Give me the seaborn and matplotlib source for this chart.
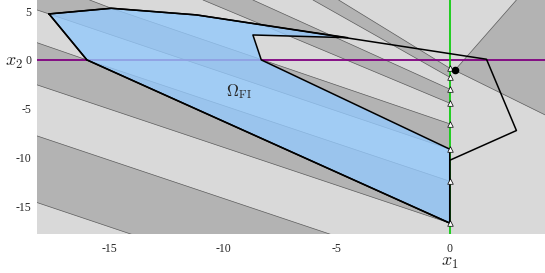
import numpy as np
import pandas as pd
import matplotlib
matplotlib.use("Agg")
import matplotlib.pyplot as plt
import seaborn as sns

sns.set_style("white")
plt.rcParams["axes.unicode_minus"] = False
plt.rcParams["mathtext.fontset"] = "cm"

XLIM = (-18.2, 4.2)
YLIM = (-17.9, 6.15)

# band boundaries left of x1 = 0, listed from bottom to top (x list, y list)
band_x = [
    [-18.2, -14.03],
    [-18.2, -5.26],
    [-18.2, 0.0],
    [-18.2, -16.0, 0.0],
    [-18.2, -17.67, 0.0],
    [-15.88, -14.92, 0.0],
    [-10.88, 0.0],
    [-8.68, 0.0],
    [-6.03, 0.0],
    [-4.9, 0.0],
]
band_y = [
    [-14.64, -17.9],
    [-7.8, -17.9],
    [-2.56, -16.75],
    [1.77, 0.0, -12.45],
    [5.13, 4.72, -9.16],
    [6.15, 5.3, -6.56],
    [6.15, -4.44],
    [6.15, -3.0],
    [6.15, -1.78],
    [6.15, -0.85],
]
band_dark_above = [True, False, True, False, True, False, True, False, True, False]

# region right of x1 = 0
dot = (0.22, -1.07)
right_dark_x = [0.22, 2.94, 4.2, 4.2]
right_dark_y = [-1.07, 6.15, 6.15, -5.64]

# feasible set (blue) and outer outline
omega_x = [-17.67, -14.92, -11.17, -4.5, -8.68, -8.31, 0.0, 0.0, -16.0]
omega_y = [4.72, 5.3, 4.62, 2.28, 2.56, 0.0, -9.16, -16.75, 0.0]
outer_x = [-17.67, -14.92, -11.17, 1.62, 2.94, 0.0, 0.0, -16.0]
outer_y = [4.72, 5.3, 4.62, 0.07, -7.25, -10.3, -16.75, 0.0]

# trajectory points on x1 = 0
tri_y = [-0.85, -1.78, -3.0, -4.44, -6.56, -9.16, -12.45, -16.75]

LIGHT = "#d9d9d9"
DARK = "#b3b3b3"
EDGE = "#5a5a5a"

fig = plt.figure(figsize=(5.45, 2.73), dpi=100)
ax = fig.add_axes([37 / 545, 38.7 / 273, 508 / 545, 234.3 / 273])

# background
ax.fill([XLIM[0], XLIM[1], XLIM[1], XLIM[0]], [YLIM[0], YLIM[0], YLIM[1], YLIM[1]],
        color=LIGHT, lw=0, zorder=0)
for bx, by, dk in zip(band_x, band_y, band_dark_above):
    px = list(bx)
    py = list(by)
    if px[-1] < 0:  # ends at bottom edge
        px += [0.0, 0.0]
        py += [YLIM[0], YLIM[1]]
    else:
        px += [0.0]
        py += [YLIM[1]]
    if by[0] < YLIM[1] - 1e-6:
        px += [XLIM[0], XLIM[0]]
        py += [YLIM[1], by[0]]
    ax.fill(px, py, color=DARK if dk else LIGHT, lw=0, zorder=0.5)
for bx, by in zip(band_x, band_y):
    ax.plot(bx, by, color=EDGE, lw=0.5, zorder=0.8)
ax.fill(right_dark_x, right_dark_y, color=DARK, lw=0, zorder=0.5)
ax.plot(right_dark_x[:2], right_dark_y[:2], color=EDGE, lw=0.5, zorder=0.8)
ax.plot([right_dark_x[0], right_dark_x[3]], [right_dark_y[0], right_dark_y[3]],
        color=EDGE, lw=0.5, zorder=0.8)

# axes lines
ax.axhline(0, color="#800080", lw=1.3, zorder=1)
ax.axvline(0, color="#00cc00", lw=1.2, zorder=1)

# blue set
ax.fill(omega_x, omega_y, color=(0.58, 0.79, 0.99), alpha=0.8, lw=0, zorder=2)
ox = omega_x + omega_x[:1]
oy = omega_y + omega_y[:1]
df_o = pd.DataFrame({"x": ox, "y": oy})
sns.lineplot(data=df_o, x="x", y="y", sort=False, color="black", lw=1.1, ax=ax,
             zorder=3, estimator=None)
ux = outer_x + outer_x[:1]
uy = outer_y + outer_y[:1]
df_u = pd.DataFrame({"x": ux, "y": uy})
sns.lineplot(data=df_u, x="x", y="y", sort=False, color="black", lw=1.1, ax=ax,
             zorder=3, estimator=None)

# markers
df_t = pd.DataFrame({"x": [0.0] * len(tri_y), "y": tri_y})
sns.scatterplot(data=df_t, x="x", y="y", marker="^", s=16, color="white",
                edgecolor="black", linewidth=0.5, ax=ax, zorder=4)
ax.scatter([dot[0]], [dot[1]], s=20, color="black", zorder=4)

ax.text(-9.3, -3.3, r"$\Omega_{\rm FI}$", fontsize=12, ha="center", va="center",
        zorder=5)

ax.set_xlim(*XLIM)
ax.set_ylim(*YLIM)
ax.set_xticks([-15, -10, -5, 0])
ax.set_yticks([-15, -10, -5, 0, 5])
ax.set_xticklabels(["-15", "-10", "-5", "0"], fontfamily="Liberation Serif", fontsize=8.5)
ax.set_yticklabels(["-15", "-10", "-5", "0", "5"], fontfamily="Liberation Serif", fontsize=8.5)
ax.tick_params(axis="both", length=0)
ax.tick_params(axis="x", pad=6)
ax.tick_params(axis="y", pad=4)
ax.set_xlabel("")
ax.set_ylabel("")
for s in ax.spines.values():
    s.set_visible(False)

ax.text(0, -0.12, r"$x_1$", transform=ax.get_xaxis_transform(), fontsize=13,
        ha="center", va="center")
ax.text(-0.045, -0.2, r"$x_2$", transform=ax.get_yaxis_transform(), fontsize=13,
        ha="center", va="center")

fig.savefig("out.png", dpi=100)
